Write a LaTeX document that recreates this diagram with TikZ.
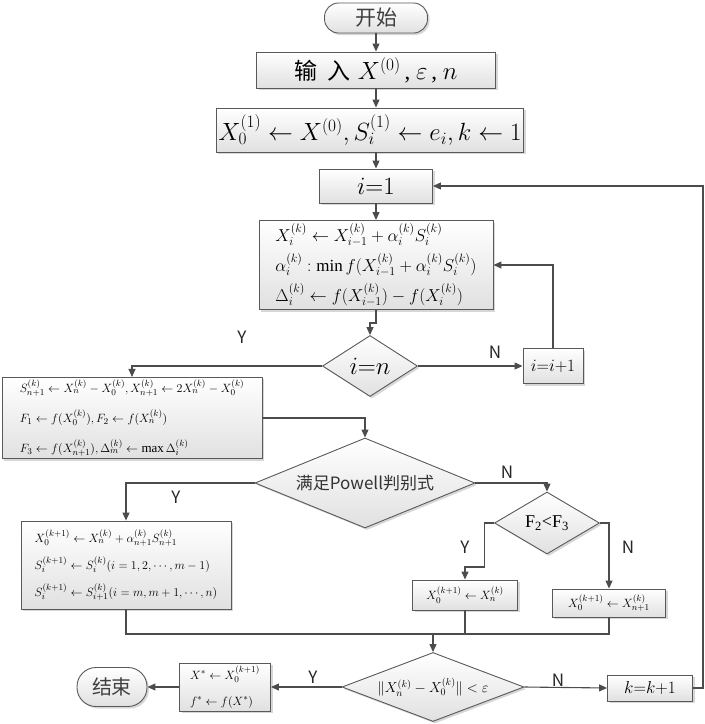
\documentclass[tikz,border=0pt]{standalone}
\usepackage{fontspec}
\setmainfont{Liberation Serif}
\newfontfamily\cjk{Noto Sans CJK SC}
\usetikzlibrary{shapes.geometric,arrows.meta,shadows,calc}
\newcommand\fsz[2]{\fontsize{#1}{#2}\selectfont}
\tikzset{
  ln/.style={draw=black!70, line width=1.1pt},
  arr/.style={ln, -{Triangle[length=8pt,width=7pt]}},
  box/.style={draw=black!65, line width=0.9pt, top color=white, bottom color=black!12,
    inner sep=2pt, drop shadow={shadow xshift=2pt,shadow yshift=-2pt,fill=black!35,opacity=0.45}},
  term/.style={box, rounded corners=14pt},
  dia/.style={box, diamond, inner sep=0pt, aspect=2.4},
  lab/.style={font=\cjk\fsz{17}{17}, text=black!85},
}
\begin{document}
\begin{tikzpicture}[x=1pt,y=-1pt]
\useasboundingbox (0,0) rectangle (705,724);
% nodes
\node[term, minimum width=103pt, minimum height=30pt, font=\cjk\fsz{21}{21}, text=black!75] (start) at (376,18) {开始};
\node[box, minimum width=239pt, minimum height=36pt, font=\fsz{23}{23}] (inp) at (376,70)
  {{\cjk 输\hspace{0.45em}入}\hspace{0.3em}$X^{(0)}$\,, $\varepsilon$\,, $n$};
\node[box, minimum width=294pt, minimum height=44pt, font=\fsz{24}{24}] (init) at (370,130) {$X_0^{(1)}\leftarrow X^{(0)},S_i^{(1)}\leftarrow e_i,k\leftarrow 1$};
\node[box, minimum width=113pt, minimum height=34pt, font=\fsz{24}{24}] (i1) at (376,186) {$i{=}1$};
\node[box, minimum width=234pt, minimum height=89pt, align=left, font=\fsz{17}{30}] (b5) at (376,265)
  {$X_i^{(k)}\leftarrow X_{i-1}^{(k)}+\alpha_i^{(k)}S_i^{(k)}$\\
   $\alpha_i^{(k)}:\min f(X_{i-1}^{(k)}+\alpha_i^{(k)}S_i^{(k)})$\\
   $\Delta_i^{(k)}\leftarrow f(X_{i-1}^{(k)})-f(X_i^{(k)})$};
\node[dia, minimum width=95pt, minimum height=61pt, font=\fsz{24}{24}] (dn) at (370,366) {$i{=}n$};
\node[box, minimum width=60pt, minimum height=35pt, font=\fsz{17}{17}] (ii) at (553,366) {$i{=}i{+}1$};
\node[box, minimum width=260pt, minimum height=78pt, align=left, font=\fsz{13}{30}] (b6) at (132,418)
  {$S_{n+1}^{(k)}\leftarrow X_n^{(k)}-X_0^{(k)},X_{n+1}^{(k)}\leftarrow 2X_n^{(k)}-X_0^{(k)}$\\
   $F_1\leftarrow f(X_0^{(k)}),F_2\leftarrow f(X_n^{(k)})$\\
   $F_3\leftarrow f(X_{n+1}^{(k)}),\Delta_m^{(k)}\leftarrow \max\Delta_i^{(k)}$};
\node[dia, minimum width=220pt, minimum height=90pt, font=\cjk\fsz{17}{17}, text=black!80] (pw) at (365,483) {满足Powell判别式};
\node[dia, minimum width=105pt, minimum height=62pt, font=\fsz{18}{18}] (f23) at (547,523) {F\textsubscript{2}<F\textsubscript{3}};
\node[box, minimum width=105pt, minimum height=30pt, font=\fsz{13}{13}] (bA) at (465,595) {$X_0^{(k+1)}\leftarrow X_n^{(k)}$};
\node[box, minimum width=113pt, minimum height=28pt, font=\fsz{13}{13}] (bB) at (609,603) {$X_0^{(k+1)}\leftarrow X_{n+1}^{(k)}$};
\node[box, minimum width=210pt, minimum height=88pt, align=left, font=\fsz{13}{27}] (bC) at (126,565)
  {$X_0^{(k+1)}\leftarrow X_n^{(k)}+\alpha_{n+1}^{(k)}S_{n+1}^{(k)}$\\
   $S_i^{(k+1)}\leftarrow S_i^{(k)}(i=1,2,\cdots,m-1)$\\
   $S_i^{(k+1)}\leftarrow S_{i+1}^{(k)}(i=m,m+1,\cdots,n)$};
\node[dia, minimum width=182pt, minimum height=69pt, aspect=2.64, font=\fsz{14}{14}] (bot) at (433,687) {$\Bigl\|X_n^{(k)}-X_0^{(k)}\Bigr\|<\varepsilon$};
\node[box, minimum width=85pt, minimum height=26pt, font=\fsz{18}{18}] (kk) at (650,688) {$k{=}k{+}1$};
\node[box, minimum width=91pt, minimum height=48pt, align=left, font=\fsz{13}{26}] (bD) at (225,687)
  {$X^*\leftarrow X_0^{(k+1)}$\\ $f^*\leftarrow f(X^*)$};
\node[term, minimum width=70pt, minimum height=39pt, rounded corners=19pt, font=\cjk\fsz{20}{20}, text=black!75] (end) at (112,687) {结束};
% connectors
\draw[arr] (start.south) -- (inp.north);
\draw[arr] (inp.south) -- (inp.south |- init.north);
\draw[arr] (i1.north |- init.south) -- (i1.north);
\draw[arr] (i1.south) -- (b5.north);
\draw[arr] (b5.south) -- ++(0,13) -| (dn.north);
\draw[arr] (dn.west) -| (b6.north);
\node[lab] (ly1) at (242,337) {Y};
\draw[arr] (dn.east) -- (ii.west);
\node[lab] (ln1) at (495,352) {N};
\draw[arr] (ii.north) |- (b5.east);
\draw[arr] (b6.east) -| (pw.north);
\draw[arr] (pw.west) -| (bC.north);
\node[lab] (ly2) at (176,497) {Y};
\draw[arr] (pw.east) -| (f23.north);
\node[lab] (ln2) at (507,472) {N};
\draw[arr] (f23.west) -- ++(-10,0) -- ++(0,44) -| (bA.north);
\node[lab] (ly3) at (465,547) {Y};
\draw[arr] (f23.east) -| (bB.north);
\node[lab] (ln3) at (628,547) {N};
\coordinate (m) at (433,634);
\draw[ln] (bC.south) |- (m);
\draw[ln] (bB.south) |- (m);
\draw[ln] (bA.south) -- (bA.south |- m);
\draw[arr] (m) -- (bot.north);
\draw[arr] (bot.east) -- (kk.west);
\node[lab] (ln4) at (558,680) {N};
\draw[arr] (kk.east) -- ++(10,0) |- (i1.east);
\draw[arr] (bot.west) -- (bD.east);
\node[lab] (ly4) at (313,677) {Y};
\draw[arr] (bD.west) -- (end.east);
\end{tikzpicture}
\end{document}
